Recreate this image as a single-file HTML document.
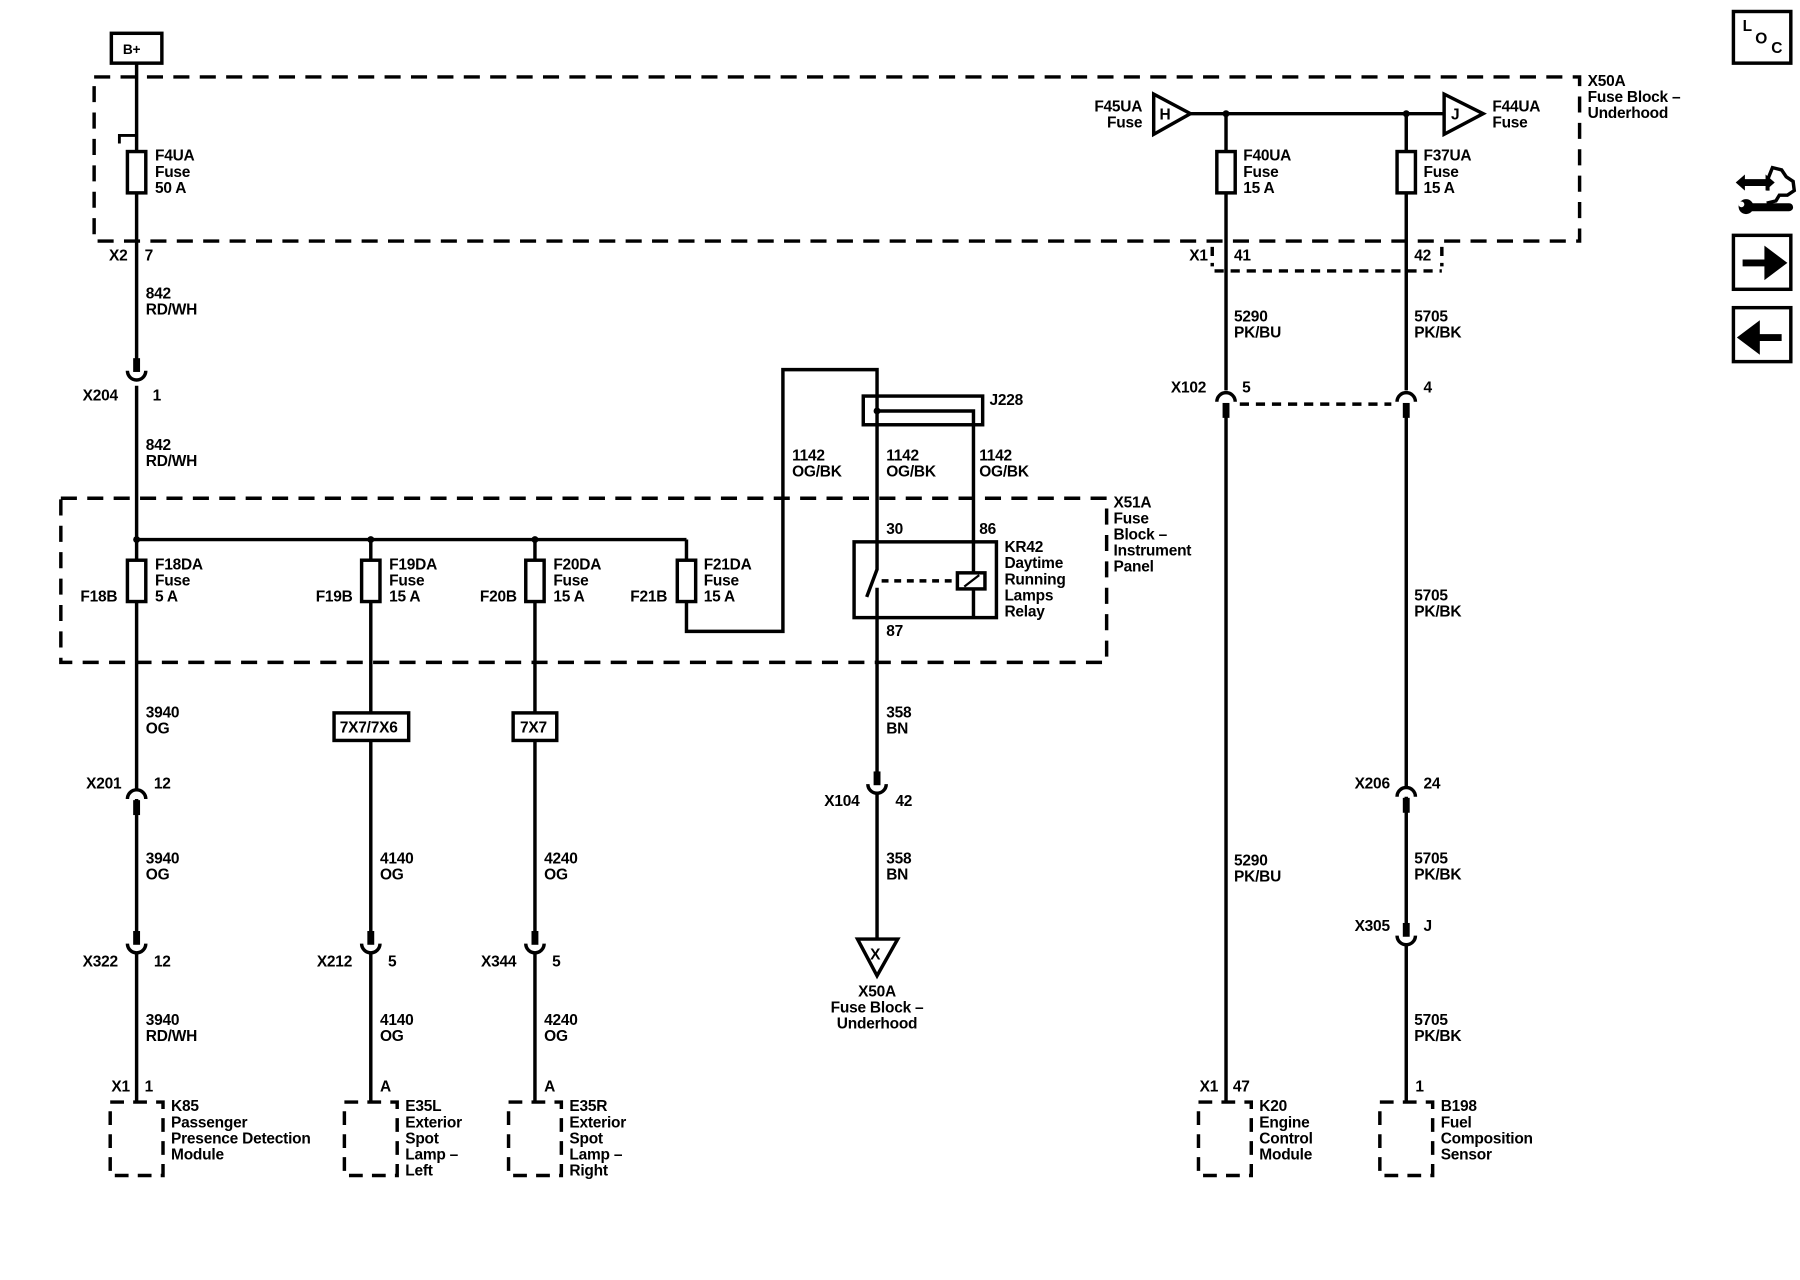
<!DOCTYPE html>
<html><head><meta charset="utf-8"><style>
html,body{margin:0;padding:0;background:#fff;}
svg{display:block;}
text{font-family:"Liberation Sans",Arial,sans-serif;font-size:13.5px;font-weight:bold;fill:#000;letter-spacing:-0.2px;}
</style></head><body>
<svg width="1800" height="1280" viewBox="0 0 1568 1115" xmlns="http://www.w3.org/2000/svg">
<g fill="none" stroke="#000" stroke-width="3">
<rect x="82" y="67" width="1294" height="143" stroke-dasharray="14,9"/>
<rect x="53" y="434" width="911" height="143" stroke-dasharray="14,9"/>
<path d="M1056,215V232M1058,236H1256M1256,215V232" stroke-dasharray="8,6"/>
<path d="M1080,352H1212" stroke-dasharray="8,6"/>
<rect x="97" y="29" width="44" height="26"/>
<path d="M119,55V318M119,336V960"/>
<path d="M104,125V118H119" stroke-width="2.5"/>
<rect x="111" y="132" width="16" height="36" fill="#fff"/>
<path d="M119,470H598"/>
<path d="M323,470V960M466,470V960"/>
<path d="M598,470V550H682V322H764V472"/>
<rect x="111" y="488" width="16" height="36" fill="#fff"/>
<rect x="315" y="488" width="16" height="36" fill="#fff"/>
<rect x="458" y="488" width="16" height="36" fill="#fff"/>
<rect x="590" y="488" width="16" height="36" fill="#fff"/>
<rect x="291" y="621" width="65" height="24" fill="#fff"/>
<rect x="447" y="621" width="38" height="24" fill="#fff"/>
<rect x="752" y="345" width="104" height="25"/>
<path d="M764,358H848V538"/>
<rect x="744" y="472" width="124" height="66"/>
<path d="M764,472V496L755,520M764,512V818"/>
<path d="M768,506H834" stroke-dasharray="6,5"/>
<rect x="834" y="499" width="24" height="14" fill="#fff"/>
<path d="M840,511L853,501" stroke-width="2"/>
<path d="M747,818H782L764,850Z"/>
<path d="M1005,82V117L1037,99ZM1258,82V117L1292,99Z"/>
<path d="M1037,99H1258"/>
<path d="M1068,99V340M1068,360V960M1225,99V340M1225,360V960"/>
<rect x="1060" y="132" width="16" height="36" fill="#fff"/>
<rect x="1217" y="132" width="16" height="36" fill="#fff"/>
<g stroke-dasharray="12,8">
<rect x="96" y="960" width="46" height="64"/>
<rect x="300" y="960" width="46" height="64"/>
<rect x="443" y="960" width="46" height="64"/>
<rect x="1044" y="960" width="46" height="64"/>
<rect x="1202" y="960" width="46" height="64"/>
</g>
<rect x="1510" y="10" width="50" height="45"/>
<rect x="1510" y="205" width="50" height="47"/>
<rect x="1510" y="268" width="50" height="47"/>
<path d="M1540,166l0,-10 4,-10 8,2 4,6 6,4 1,8 -6,4 -7,0 -3,5 -8,2"/>
</g>
<g fill="#fff" stroke="#000" stroke-width="3">
<path d="M111,696a8,8 0 0 1 16,0M1060,350a8,8 0 0 1 16,0M1217,350a8,8 0 0 1 16,0M1217,694a8,8 0 0 1 16,0"/>
<path d="M111,323a8,8 0 0 0 16,0M111,822a8,8 0 0 0 16,0M315,822a8,8 0 0 0 16,0M458,822a8,8 0 0 0 16,0M756,683a8,8 0 0 0 16,0M1217,815a8,8 0 0 0 16,0"/>
</g>
<g fill="#000">
<rect x="116" y="312" width="6" height="12"/>
<rect x="116" y="697" width="6" height="13"/>
<rect x="116" y="811" width="6" height="12"/>
<rect x="320" y="811" width="6" height="12"/>
<rect x="463" y="811" width="6" height="12"/>
<rect x="761" y="672" width="6" height="12"/>
<rect x="1065" y="351" width="6" height="13"/>
<rect x="1222" y="351" width="6" height="13"/>
<rect x="1222" y="695" width="6" height="13"/>
<rect x="1222" y="804" width="6" height="12"/>
<circle cx="119" cy="470" r="3"/><circle cx="323" cy="470" r="3"/><circle cx="466" cy="470" r="3"/>
<circle cx="764" cy="358" r="3"/><circle cx="1068" cy="99" r="3"/><circle cx="1225" cy="99" r="3"/>
<path d="M1518,229h22v-9l12,9 -12,9v-9z" stroke="#000" stroke-width="6"/>
<path d="M1552,294h-22v-9l-12,9 12,9v-9z" stroke="#000" stroke-width="6"/>
<path d="M1512,159l8,-7v4h18v-4l8,7 -8,7v-4h-18v4z"/>
<rect x="1522" y="177" width="40" height="7" rx="3.5"/>
<circle cx="1521" cy="180" r="6.5"/>
</g>
<circle cx="1517" cy="178" r="2.5" fill="#fff"/>
<g>
<text x="107" y="47" style="font-size:12px">B+</text>
<text x="1518" y="27">L</text><text x="1529" y="38">O</text><text x="1543" y="46">C</text>
<text x="135" y="140">F4UA</text><text x="135" y="154">Fuse</text><text x="135" y="168">50 A</text>
<text x="95" y="227">X2</text><text x="126" y="227">7</text>
<text x="127" y="260">842</text><text x="127" y="274">RD/WH</text>
<text x="72" y="349">X204</text><text x="133" y="349">1</text>
<text x="127" y="392">842</text><text x="127" y="406">RD/WH</text>
<text x="970" y="442">X51A</text><text x="970" y="456">Fuse</text><text x="970" y="470">Block –</text><text x="970" y="484">Instrument</text><text x="970" y="498">Panel</text>
<text x="135" y="496">F18DA</text><text x="135" y="510">Fuse</text><text x="135" y="524">5 A</text><text x="70" y="524">F18B</text>
<text x="339" y="496">F19DA</text><text x="339" y="510">Fuse</text><text x="339" y="524">15 A</text><text x="275" y="524">F19B</text>
<text x="482" y="496">F20DA</text><text x="482" y="510">Fuse</text><text x="482" y="524">15 A</text><text x="418" y="524">F20B</text>
<text x="613" y="496">F21DA</text><text x="613" y="510">Fuse</text><text x="613" y="524">15 A</text><text x="549" y="524">F21B</text>
<text x="296" y="638">7X7/7X6</text><text x="453" y="638">7X7</text>
<text x="127" y="625">3940</text><text x="127" y="639">OG</text>
<text x="75" y="687">X201</text><text x="134" y="687">12</text>
<text x="127" y="752">3940</text><text x="127" y="766">OG</text>
<text x="72" y="842">X322</text><text x="134" y="842">12</text>
<text x="127" y="893">3940</text><text x="127" y="907">RD/WH</text>
<text x="97" y="951">X1</text><text x="126" y="951">1</text>
<text x="149" y="968">K85</text><text x="149" y="982">Passenger</text><text x="149" y="996">Presence Detection</text><text x="149" y="1010">Module</text>
<text x="331" y="752">4140</text><text x="331" y="766">OG</text>
<text x="276" y="842">X212</text><text x="338" y="842">5</text>
<text x="331" y="893">4140</text><text x="331" y="907">OG</text>
<text x="331" y="951">A</text>
<text x="353" y="968">E35L</text><text x="353" y="982">Exterior</text><text x="353" y="996">Spot</text><text x="353" y="1010">Lamp –</text><text x="353" y="1024">Left</text>
<text x="474" y="752">4240</text><text x="474" y="766">OG</text>
<text x="419" y="842">X344</text><text x="481" y="842">5</text>
<text x="474" y="893">4240</text><text x="474" y="907">OG</text>
<text x="474" y="951">A</text>
<text x="496" y="968">E35R</text><text x="496" y="982">Exterior</text><text x="496" y="996">Spot</text><text x="496" y="1010">Lamp –</text><text x="496" y="1024">Right</text>
<text x="690" y="401">1142</text><text x="690" y="415">OG/BK</text>
<text x="772" y="401">1142</text><text x="772" y="415">OG/BK</text>
<text x="853" y="401">1142</text><text x="853" y="415">OG/BK</text>
<text x="862" y="353">J228</text>
<text x="772" y="465">30</text><text x="853" y="465">86</text>
<text x="875" y="481">KR42</text><text x="875" y="495">Daytime</text><text x="875" y="509">Running</text><text x="875" y="523">Lamps</text><text x="875" y="537">Relay</text>
<text x="772" y="554">87</text>
<text x="772" y="625">358</text><text x="772" y="639">BN</text>
<text x="718" y="702">X104</text><text x="780" y="702">42</text>
<text x="772" y="752">358</text><text x="772" y="766">BN</text>
<text x="758" y="836">X</text>
<text x="764" y="868" text-anchor="middle">X50A</text><text x="764" y="882" text-anchor="middle">Fuse Block –</text><text x="764" y="896" text-anchor="middle">Underhood</text>
<text x="1383" y="75">X50A</text><text x="1383" y="89">Fuse Block –</text><text x="1383" y="103">Underhood</text>
<text x="995" y="97" text-anchor="end">F45UA</text><text x="995" y="111" text-anchor="end">Fuse</text>
<text x="1010" y="104">H</text><text x="1264" y="104">J</text>
<text x="1300" y="97">F44UA</text><text x="1300" y="111">Fuse</text>
<text x="1083" y="140">F40UA</text><text x="1083" y="154">Fuse</text><text x="1083" y="168">15 A</text>
<text x="1240" y="140">F37UA</text><text x="1240" y="154">Fuse</text><text x="1240" y="168">15 A</text>
<text x="1036" y="227">X1</text><text x="1075" y="227">41</text><text x="1232" y="227">42</text>
<text x="1075" y="280">5290</text><text x="1075" y="294">PK/BU</text>
<text x="1232" y="280">5705</text><text x="1232" y="294">PK/BK</text>
<text x="1020" y="342">X102</text><text x="1082" y="342">5</text><text x="1240" y="342">4</text>
<text x="1232" y="523">5705</text><text x="1232" y="537">PK/BK</text>
<text x="1180" y="687">X206</text><text x="1240" y="687">24</text>
<text x="1232" y="752">5705</text><text x="1232" y="766">PK/BK</text>
<text x="1180" y="811">X305</text><text x="1240" y="811">J</text>
<text x="1232" y="893">5705</text><text x="1232" y="907">PK/BK</text>
<text x="1233" y="951">1</text>
<text x="1255" y="968">B198</text><text x="1255" y="982">Fuel</text><text x="1255" y="996">Composition</text><text x="1255" y="1010">Sensor</text>
<text x="1075" y="754">5290</text><text x="1075" y="768">PK/BU</text>
<text x="1045" y="951">X1</text><text x="1074" y="951">47</text>
<text x="1097" y="968">K20</text><text x="1097" y="982">Engine</text><text x="1097" y="996">Control</text><text x="1097" y="1010">Module</text>
</g>
</svg>
</body></html>
